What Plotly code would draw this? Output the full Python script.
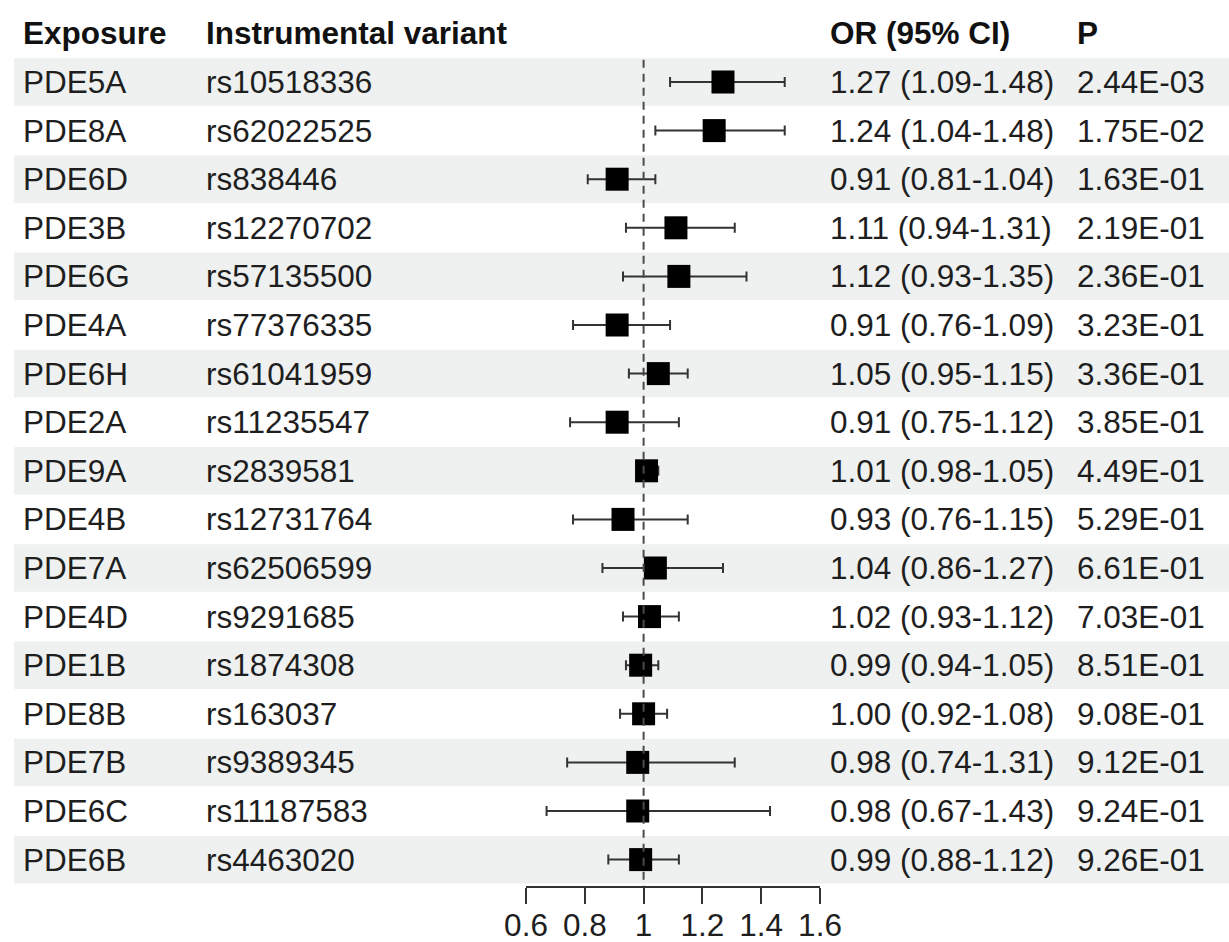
import plotly.graph_objects as go

exposures = ["PDE5A", "PDE8A", "PDE6D", "PDE3B", "PDE6G", "PDE4A", "PDE6H", "PDE2A", "PDE9A",
             "PDE4B", "PDE7A", "PDE4D", "PDE1B", "PDE8B", "PDE7B", "PDE6C", "PDE6B"]
variants = ["rs10518336", "rs62022525", "rs838446", "rs12270702", "rs57135500", "rs77376335",
            "rs61041959", "rs11235547", "rs2839581", "rs12731764", "rs62506599", "rs9291685",
            "rs1874308", "rs163037", "rs9389345", "rs11187583", "rs4463020"]
or_vals = [1.27, 1.24, 0.91, 1.11, 1.12, 0.91, 1.05, 0.91, 1.01, 0.93, 1.04, 1.02, 0.99, 1.00, 0.98, 0.98, 0.99]
ci_low = [1.09, 1.04, 0.81, 0.94, 0.93, 0.76, 0.95, 0.75, 0.98, 0.76, 0.86, 0.93, 0.94, 0.92, 0.74, 0.67, 0.88]
ci_high = [1.48, 1.48, 1.04, 1.31, 1.35, 1.09, 1.15, 1.12, 1.05, 1.15, 1.27, 1.12, 1.05, 1.08, 1.31, 1.43, 1.12]
p_vals = ["2.44E-03", "1.75E-02", "1.63E-01", "2.19E-01", "2.36E-01", "3.23E-01", "3.36E-01",
          "3.85E-01", "4.49E-01", "5.29E-01", "6.61E-01", "7.03E-01", "8.51E-01", "9.08E-01",
          "9.12E-01", "9.24E-01", "9.26E-01"]
headers = ["Exposure", "Instrumental variant", "OR (95% CI)", "P"]
tick_vals = [0.6, 0.8, 1.0, 1.2, 1.4, 1.6]
tick_text = ["0.6", "0.8", "1", "1.2", "1.4", "1.6"]

W, H = 1229, 942
FONT = "Liberation Sans, Arial, sans-serif"
FS = 31.5
TXT = "#1e1e1e"

n = len(exposures)
rows = list(range(n))

row0_px, row_h = 82, 48.6
axis_px = 886
y_top = (0 - row0_px) / row_h
y_bot = (axis_px - row0_px) / row_h

fig = go.Figure()

fig.add_trace(go.Scatter(
    x=or_vals, y=rows, mode="markers",
    marker=dict(symbol="square", size=23, color="black"),
    error_x=dict(type="data", symmetric=False,
                 array=[h - o for h, o in zip(ci_high, or_vals)],
                 arrayminus=[o - l for o, l in zip(or_vals, ci_low)],
                 color="#333333", thickness=2, width=5),
    showlegend=False, hoverinfo="skip",
))

shapes = []
for i in rows:
    if i % 2 == 0:
        shapes.append(dict(type="rect", xref="paper", yref="y", x0=14 / W, x1=1,
                           y0=i - 0.49, y1=i + 0.49, fillcolor="#eef1f0",
                           line=dict(width=0), layer="below"))
shapes.append(dict(type="line", xref="x", yref="y", x0=1, x1=1, y0=-0.46, y1=y_bot,
                   line=dict(color="#4a4a4a", width=2, dash="8px,6px"), layer="above"))

col_x = [22, 205, 829, 1076]
ann = []
for h, cx in zip(headers, col_x):
    ann.append(dict(text="<b>%s</b>" % h, x=cx / W, y=-1, xref="paper", yref="y",
                    xanchor="left", yanchor="middle", showarrow=False, borderpad=0,
                    font=dict(family=FONT, size=FS, color="#111111")))
for i in rows:
    or_txt = "%.2f (%.2f-%.2f)" % (or_vals[i], ci_low[i], ci_high[i])
    for t, cx in zip([exposures[i], variants[i], or_txt, p_vals[i]], col_x):
        ann.append(dict(text=t, x=cx / W, y=i, xref="paper", yref="y",
                        xanchor="left", yanchor="middle", showarrow=False, borderpad=0,
                        font=dict(family=FONT, size=FS, color=TXT)))

fig.update_layout(
    width=W, height=H, autosize=False,
    margin=dict(l=0, r=0, t=0, b=0, pad=0, autoexpand=False),
    paper_bgcolor="white", plot_bgcolor="rgba(0,0,0,0)",
    shapes=shapes, annotations=ann,
    xaxis=dict(domain=[526 / W, 820 / W], range=[0.6, 1.6], showgrid=False, zeroline=False,
               showline=True, linecolor="#333333", linewidth=2,
               ticks="outside", ticklen=16, tickwidth=2, tickcolor="#333333",
               tickvals=tick_vals, ticktext=tick_text, automargin=False,
               ticklabelstandoff=-6,
               tickfont=dict(family=FONT, size=FS, color=TXT)),
    yaxis=dict(domain=[1 - axis_px / H, 1], range=[y_bot, y_top], visible=False,
               showgrid=False, zeroline=False, automargin=False),
)

fig.write_html("out.html", config={"responsive": False, "displayModeBar": False},
               post_script="document.body.style.margin='0';document.body.style.overflow='hidden';")
